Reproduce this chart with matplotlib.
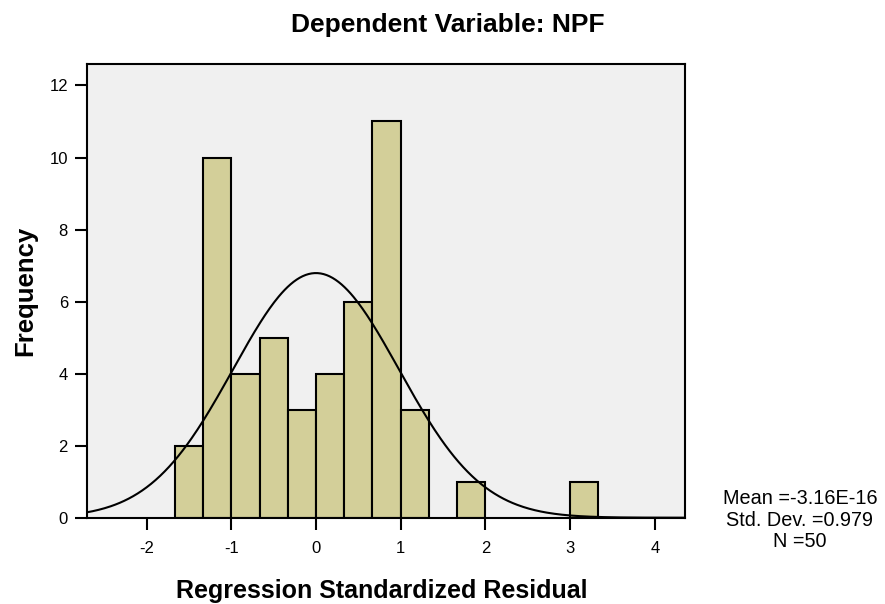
import numpy as np
import matplotlib
matplotlib.use("Agg")
import matplotlib.pyplot as plt

plt.rcParams['font.family'] = ['Liberation Sans', 'DejaVu Sans']

# Data
bin_edges_left = [-5/3, -4/3, -1.0, -2/3, -1/3, 0.0, 1/3, 2/3, 1.0, 5/3, 3.0]
counts = [2, 10, 4, 5, 3, 4, 6, 11, 3, 1, 1]
bin_width = 1/3
mean = -3.16e-16
std = 0.979
n = 50
xticks = [-2, -1, 0, 1, 2, 3, 4]
yticks = [0, 2, 4, 6, 8, 10, 12]

W, H = 885, 604
fig = plt.figure(figsize=(W/100, H/100), dpi=100)
ax_l, ax_r, ax_t, ax_b = 86.7, 685.0, 63.5, 517.7
ax = fig.add_axes([ax_l/W, 1 - ax_b/H, (ax_r-ax_l)/W, (ax_b-ax_t)/H])
ax.set_facecolor('#f0f0f0')

ax.bar(bin_edges_left, counts, width=bin_width, align='edge',
       color='#d3cf99', edgecolor='black', linewidth=1.5, zorder=2)

xmin, xmax = -2.707, 4.357
xs = np.linspace(xmin, xmax, 400)
ys = n * bin_width * np.exp(-0.5 * ((xs - mean) / std) ** 2) / (std * np.sqrt(2 * np.pi))
ax.plot(xs, ys, color='black', linewidth=1.5, zorder=3)

ax.set_xlim(xmin, xmax)
ax.set_ylim(0, 12.61)
ax.set_xticks(xticks)
ax.set_yticks(yticks)
ax.set_xticklabels([str(t) for t in xticks], fontsize=12)
ax.set_yticklabels([str(t) for t in yticks], fontsize=12)
ax.tick_params(direction='out', length=8.5, width=1.5, colors='black')
ax.tick_params(axis='x', pad=8)
ax.tick_params(axis='y', pad=5)
for s in ax.spines.values():
    s.set_linewidth(1.5)

# x label
fig.text(382/W, 1 - 598/H, 'Regression Standardized Residual', fontsize=18,
         fontweight='bold', ha='center', va='baseline')
# y label
fig.text(32/W, 1 - 291/H, 'Frequency', fontsize=18.5, fontweight='bold',
         rotation=90, rotation_mode='anchor', ha='center', va='baseline')
# title
fig.text(448/W, 1 - 32/H, 'Dependent Variable: NPF', fontsize=19,
         fontweight='bold', ha='center', va='baseline')

fig.text(800/W, 1 - 520/H, 'Mean =-3.16E-16\nStd. Dev. =0.979\nN =50',
         fontsize=14.3, ha='center', va='center', linespacing=1.15)

fig.savefig('out.png', dpi=100)
